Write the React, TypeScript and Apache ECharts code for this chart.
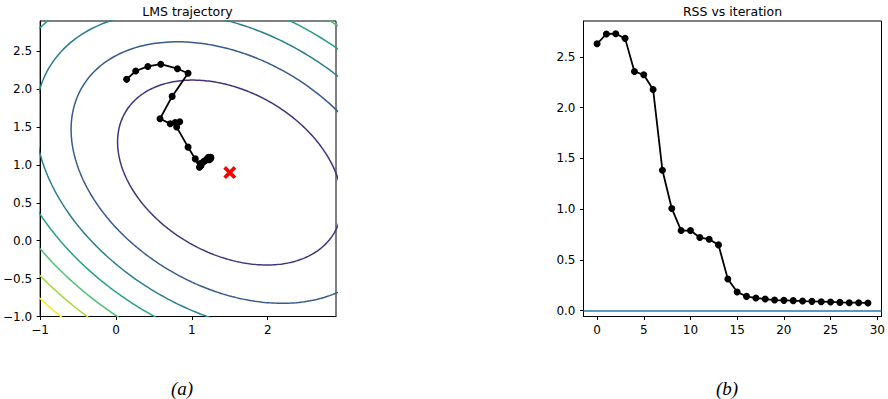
import React, { useEffect, useRef } from "react";
import * as echarts from "echarts";

// ---------- data ----------
// Contours of a quadratic cost: f = a*dx^2 + 2b*dx*dy + c*dy^2 around the optimum
const OPTIMUM = [1.5, 0.9];
const QUAD_A = 1.0;
const QUAD_B = 0.4;
const QUAD_C = 1.47;
const CONTOUR_LEVELS = [1.95, 3.9, 5.85, 7.8, 9.75, 11.7, 13.65];
const CONTOUR_COLORS = ["#45327d", "#375b8c", "#277f8e", "#22a186", "#4cc26c", "#a0d938", "#fde725"];

// LMS trajectory (w0, w1)
const TRAJ_W0 = [0.14, 0.26, 0.42, 0.59, 0.81, 0.95, 0.74, 0.58, 0.715, 0.78, 0.84, 0.80, 0.95, 1.045,
  1.10, 1.12, 1.11, 1.14, 1.16, 1.18, 1.20, 1.22, 1.24, 1.25, 1.23, 1.21, 1.24, 1.22, 1.25, 1.23];
const TRAJ_W1 = [2.13, 2.24, 2.30, 2.33, 2.27, 2.21, 1.905, 1.61, 1.545, 1.56, 1.57, 1.50, 1.235, 1.08,
  0.97, 0.99, 1.02, 1.03, 1.05, 1.06, 1.08, 1.09, 1.10, 1.09, 1.07, 1.08, 1.08, 1.10, 1.10, 1.09];

// RSS vs iteration
const ITERATIONS = Array.from({ length: 30 }, (_, i) => i);
const RSS = [2.628, 2.724, 2.727, 2.681, 2.355, 2.322, 2.178, 1.382, 1.007, 0.789, 0.789, 0.72, 0.704,
  0.648, 0.3125, 0.184, 0.141, 0.125, 0.115, 0.105, 0.102, 0.099, 0.095, 0.092, 0.089, 0.086, 0.082,
  0.079, 0.079, 0.076];
const RSS_BASELINE = 0;

// tick labels
const LEFT_X_TICKS = [-1, 0, 1, 2];
const LEFT_Y_TICKS = [-1, -0.5, 0, 0.5, 1, 1.5, 2, 2.5];
const RIGHT_X_TICKS = [0, 5, 10, 15, 20, 25, 30];
const RIGHT_Y_TICKS = [0, 0.5, 1, 1.5, 2, 2.5];

const FONT = "DejaVu Sans";
const minus = (s: string) => s.replace("-", "\u2212");
const fmtInt = (v: number) => minus(String(Math.round(v)));
const fmt1 = (v: number) => minus((Math.abs(v) < 1e-9 ? 0 : v).toFixed(1));

function ellipse(level: number): number[][] {
  const pts: number[][] = [];
  const n = 360;
  for (let i = 0; i <= n; i++) {
    const t = (i / n) * Math.PI * 2;
    const cx = Math.cos(t);
    const sy = Math.sin(t);
    const q = QUAD_A * cx * cx + 2 * QUAD_B * cx * sy + QUAD_C * sy * sy;
    const r = Math.sqrt(level / q);
    pts.push([OPTIMUM[0] + r * cx, OPTIMUM[1] + r * sy]);
  }
  return pts;
}

function axis(gridIndex: number, min: number, max: number, ticks: number[], fmt: (v: number) => string, isX: boolean) {
  return {
    type: "value",
    gridIndex,
    min,
    max,
    splitLine: { show: false },
    axisLine: { show: true, onZero: false, lineStyle: { color: "#000", width: 1 } },
    axisTick: { show: true, length: 3.5, customValues: ticks, lineStyle: { color: "#000", width: 1 } },
    axisLabel: {
      customValues: ticks,
      formatter: fmt,
      color: "#000",
      fontSize: 12,
      fontFamily: FONT,
      margin: isX ? 7 : 8,
    },
  };
}

export default function App() {
  const ref = useRef<HTMLDivElement>(null);
  useEffect(() => {
    if (!ref.current) return;
    const chart = echarts.init(ref.current, undefined, { renderer: "svg" });

    const contourSeries = CONTOUR_LEVELS.map((lv, i) => ({
      type: "line",
      xAxisIndex: 0,
      yAxisIndex: 0,
      data: ellipse(lv),
      showSymbol: false,
      symbol: "none",
      clip: true,
      silent: true,
      lineStyle: { color: CONTOUR_COLORS[i], width: 1.5 },
      z: 2,
    }));

    const option = {
      animation: false,
      grid: [
        { left: 38.5, top: 21, width: 297.5, height: 295.5, show: true, borderColor: "#000", borderWidth: 1, backgroundColor: "transparent" },
        { left: 583.5, top: 21, width: 298, height: 295.5, show: true, borderColor: "#000", borderWidth: 1, backgroundColor: "transparent" },
      ],
      xAxis: [
        axis(0, -1, 2.9, LEFT_X_TICKS, fmtInt, true),
        axis(1, -1.45, 30.45, RIGHT_X_TICKS, fmtInt, true),
      ],
      yAxis: [
        axis(0, -1, 2.9, LEFT_Y_TICKS, fmt1, false),
        axis(1, -0.057, 2.852, RIGHT_Y_TICKS, fmt1, false),
      ],
      graphic: [
        { type: "text", x: 187.5, y: 11, style: { text: "LMS trajectory", fontSize: 12.5, fontFamily: FONT, fill: "#000", textAlign: "center", textVerticalAlign: "middle" } },
        { type: "text", x: 732.5, y: 11, style: { text: "RSS vs iteration", fontSize: 12.5, fontFamily: FONT, fill: "#000", textAlign: "center", textVerticalAlign: "middle" } },
        { type: "text", x: 182, y: 388, style: { text: "(a)", fontSize: 19, fontStyle: "italic", fontFamily: "Liberation Serif", fill: "#000", textAlign: "center", textVerticalAlign: "middle" } },
        { type: "text", x: 727, y: 388, style: { text: "(b)", fontSize: 19, fontStyle: "italic", fontFamily: "Liberation Serif", fill: "#000", textAlign: "center", textVerticalAlign: "middle" } },
      ],
      series: [
        ...contourSeries,
        {
          type: "line",
          xAxisIndex: 0,
          yAxisIndex: 0,
          data: TRAJ_W0.map((w0, i) => [w0, TRAJ_W1[i]]),
          symbol: "circle",
          symbolSize: 7,
          showSymbol: true,
          itemStyle: { color: "#000", opacity: 1 },
          lineStyle: { color: "#000", width: 1.8 },
          z: 5,
        },
        {
          type: "scatter",
          xAxisIndex: 0,
          yAxisIndex: 0,
          data: [OPTIMUM],
          symbol: "path://M-1,-0.6 L-0.6,-1 L0,-0.4 L0.6,-1 L1,-0.6 L0.4,0 L1,0.6 L0.6,1 L0,0.4 L-0.6,1 L-1,0.6 L-0.4,0 Z",
          symbolSize: 13,
          itemStyle: { color: "#ff0000", opacity: 1 },
          z: 6,
        },
        {
          type: "line",
          xAxisIndex: 1,
          yAxisIndex: 1,
          data: ITERATIONS.map((it, i) => [it, RSS[i]]),
          symbol: "circle",
          symbolSize: 7,
          showSymbol: true,
          itemStyle: { color: "#000", opacity: 1 },
          lineStyle: { color: "#000", width: 1.8 },
          z: 5,
          markLine: {
            silent: true,
            symbol: ["none", "none"],
            label: { show: false },
            lineStyle: { color: "#1f77b4", width: 1.5, type: "solid" },
            data: [{ yAxis: RSS_BASELINE }],
          },
        },
      ],
    };
    chart.setOption(option as any);
    return () => chart.dispose();
  }, []);
  return (
    <div
      ref={ref}
      style={{ position: "fixed", left: 0, top: 0, width: 888, height: 399, background: "#fff" }}
    />
  );
}
